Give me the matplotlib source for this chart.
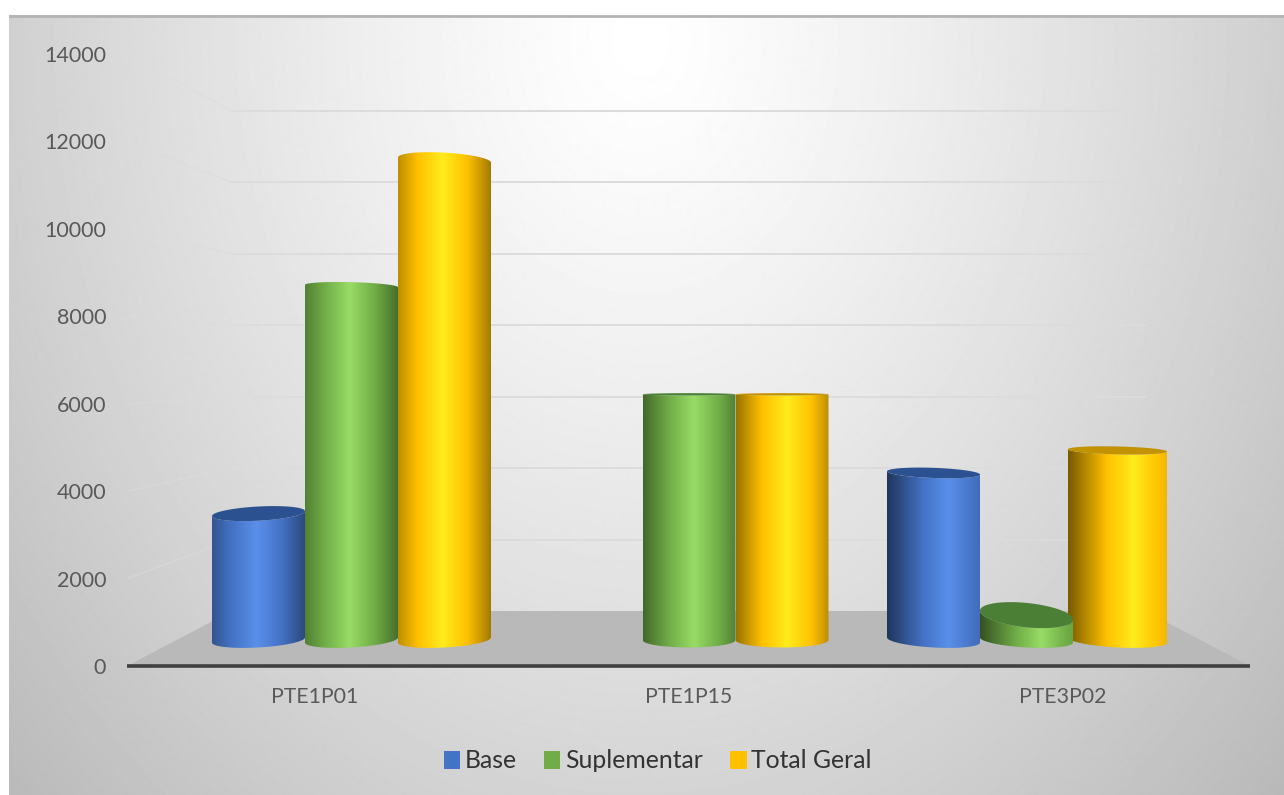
# -*- coding: utf-8 -*-
import numpy as np
import matplotlib
matplotlib.use("Agg")
from matplotlib import pyplot as plt
from matplotlib.colors import LinearSegmentedColormap
from matplotlib.patches import Patch, Polygon

# data
categories = ["PTE1P01", "PTE1P15", "PTE3P02"]
series_names = ["Base", "Suplementar", "Total Geral"]
base_values = [3200, 0, 4230]
sup_values = [8960, 6220, 630]
total_values = [12150, 6220, 4800]
y_ticks = [0, 2000, 4000, 6000, 8000, 10000, 12000, 14000]

W, H = 1284, 795
plt.rcParams["font.family"] = ["Lato", "DejaVu Sans"]

# colours: mid, highlight, cap
mid_cols = ["#4472c4", "#70ad47", "#ffc000"]
high_cols = ["#5a90ea", "#98dc66", "#ffec1c"]
cap_cols = ["#2b5190", "#4a7f35", "#c29200"]
# shading per category: left factor, highlight position, right factor
shades = [(0.74, 0.48, 0.64), (0.6, 0.55, 0.74), (0.47, 0.66, 0.95)]


def pix_box(left, top, right, bottom):
    return [left / W, 1 - bottom / H, (right - left) / W, (bottom - top) / H]


def darken(col, f):
    return tuple(c * f for c in matplotlib.colors.to_rgb(col))


fig = plt.figure(figsize=(W / 100, H / 100), dpi=100, facecolor="white")

# background of the chart area
bg = fig.add_axes(pix_box(9, 15, W, H))
bg.axis("off")
yy, xx = np.mgrid[15:H, 9:W]
r = np.sqrt(((xx - 640) / 700.0) ** 2 + ((yy - 40) / 900.0) ** 2)
bg_img = np.clip(1.0 - 0.21 * r ** 1.25, 0, 1)
bg.imshow(bg_img, cmap="gray", vmin=0, vmax=1, aspect="auto", interpolation="bilinear")
bg.plot([0, W - 9], [0.5, 0.5], color="#b4b4b4", lw=2.0, clip_on=True)
bg.set_xlim(0, W - 10)
bg.set_ylim(H - 16, 0)

# main axes, front plane of the 3d box
ax = fig.add_axes(pix_box(127, 54, 1250, 666))
ax.patch.set_alpha(0)
ax.set_xlim(-0.5, 2.5)
ax.set_ylim(0, 14000)
for s in ax.spines.values():
    s.set_visible(False)
ax.set_yticks(y_ticks)
ax.set_yticklabels([str(v) for v in y_ticks], fontsize=15.5, color="#595959")
ax.set_xticks([0, 1, 2])
ax.set_xticklabels(categories, fontsize=15.3, color="#595959")
ax.tick_params(length=0, axis="y", pad=15)
ax.tick_params(length=0, axis="x", pad=15)

# wall gridlines and floor
depth_dx = 105 / (1123 / 3)
depth_y = 55 * 14000 / 612
wall_scale = 500 / 612
for v in y_ticks[1:]:
    back = depth_y + v * wall_scale
    ax.plot([-0.5, -0.5 + depth_dx], [v, back], color="#dcdcdc", lw=1.2, alpha=0.5)
    ax.plot([-0.5 + depth_dx, 2.5 - depth_dx], [back, back], color="#dcdcdc", lw=1.4)
ax.add_patch(Polygon([(-0.5, 0), (-0.5 + depth_dx, depth_y), (2.5 - depth_dx, depth_y), (2.5, 0)],
                     closed=True, fc="#b9b9b9", ec="none", zorder=2))
ax.plot([-0.5, 2.5], [0, 0], color="#404040", lw=2.6, zorder=3, clip_on=False, solid_capstyle="butt")

# bars live on their own plane, inside the box
px_per_unit = 0.0395
bar_ax = fig.add_axes(pix_box(127, 640 - 14000 * px_per_unit, 1250, 640 + 1000 * px_per_unit))
bar_ax.axis("off")
bar_ax.patch.set_alpha(0)
x_lo = 1 + (127 - 689) / 337.5
x_hi = 1 + (1250 - 689) / 337.5
bar_w = 93 / 337.5
eye = 6300


def half_h(v):
    # how open the ellipse looks at height v, signed
    if v == 0:
        return eye * 0.026
    return (eye - v) * (0.05 if v < eye else 0.028)


def arc(xc, w, v, lat, lower):
    t = np.linspace(np.pi, 2 * np.pi, 60) if lower else np.linspace(np.pi, 0, 60)
    b = half_h(v)
    xs = xc + w / 2 * np.cos(t)
    ys = v + (abs(b) + 25) * np.sin(t) - 0.4 * b * lat * np.cos(t)
    return xs, ys


def cylinder(xc, w, v, col_i, cat_i, z):
    lat = cat_i - 1
    left, hl, right = shades[cat_i]
    mid, high = mid_cols[col_i], high_cols[col_i]
    cm = LinearSegmentedColormap.from_list("c", [
        (0, darken(mid, left)),
        (max(hl - 0.27, 0.05), mid),
        (hl, high),
        (min(hl + 0.27, 0.95), mid),
        (1, darken(mid, right)),
    ])
    bx, by = arc(xc, w, 0, lat, True)
    tx, ty = arc(xc, w, v, lat, v < eye)
    outline = np.column_stack([np.r_[bx, tx[::-1]], np.r_[by, ty[::-1]]])
    grad = np.linspace(0, 1, 256).reshape(1, -1)
    im = bar_ax.imshow(grad, cmap=cm, vmin=0, vmax=1, aspect="auto", origin="lower",
                       extent=[xc - w / 2, xc + w / 2, -1000, 14000], zorder=z,
                       interpolation="bilinear")
    im.set_clip_path(Polygon(outline, closed=True, transform=bar_ax.transData))
    if v < eye:
        # cap is visible from above
        ux, uy = arc(xc, w, v, lat, False)
        cap = np.column_stack([np.r_[tx, ux[::-1]], np.r_[ty, uy[::-1]]])
        bar_ax.add_patch(Polygon(cap, closed=True, fc=cap_cols[col_i], ec="none", zorder=z + 0.1))


all_values = [base_values, sup_values, total_values]
draw_order = [0, 2, 1]
for i in range(len(categories)):
    for j in draw_order:
        v = all_values[j][i]
        if v <= 0:
            continue
        xc = i + (j - 1) * bar_w
        w = bar_w
        if i == 2 and j == 2:
            # last cylinder comes out a bit wider in the perspective
            xc -= 2 / 337.5
            w = 99 / 337.5
        cylinder(xc, w, v, j, i, 5 + j if i < 2 else 5 + draw_order.index(j))
bar_ax.set_xlim(x_lo, x_hi)
bar_ax.set_ylim(-1000, 14000)

handles = [Patch(fc=c, ec="none") for c in ["#4472c4", "#70ad47", "#ffc000"]]
fig.legend(handles, series_names, loc="center", bbox_to_anchor=(658 / W, 1 - 761 / H), ncol=3,
           frameon=False, fontsize=17.8, labelcolor="#333333", handlelength=0.65, handleheight=0.7,
           handletextpad=0.2, columnspacing=1.1)

fig.savefig("out.png", dpi=100, facecolor="white")
